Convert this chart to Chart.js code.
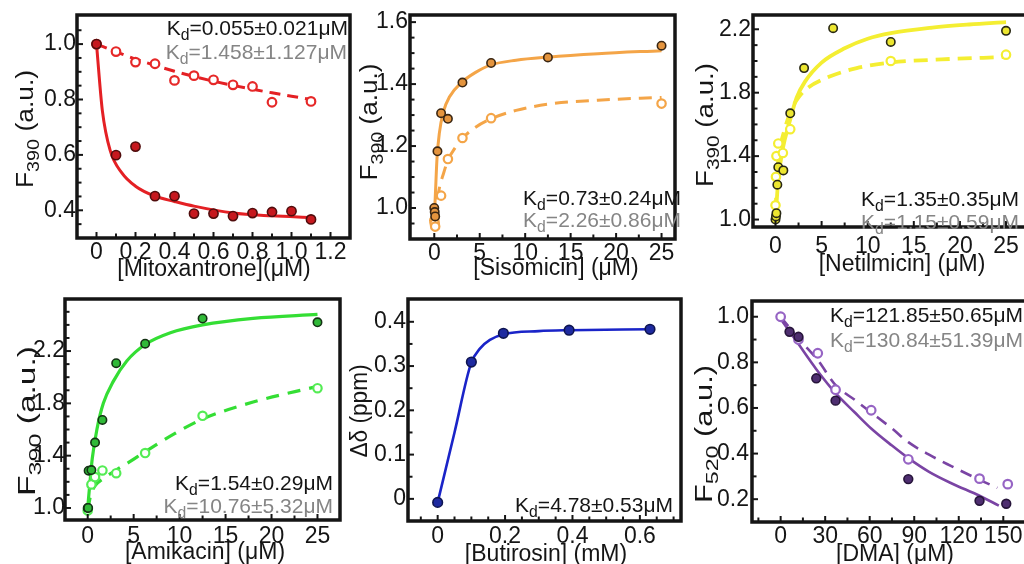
<!DOCTYPE html>
<html>
<head>
<meta charset="utf-8">
<script src="https://cdn.jsdelivr.net/npm/chart.js@4.4.1/dist/chart.umd.min.js"></script>
<style>
  html, body { margin: 0; padding: 0; background: #fff; overflow: hidden; width: 1024px; height: 564px; position: relative; }
  canvas { position: absolute; }
</style>
</head>
<body>
<script>
// ---------- Mitoxantrone titration ----------
const mitoX        = [0, 0.1, 0.2, 0.3, 0.4, 0.5, 0.6, 0.7, 0.8, 0.9, 1.0, 1.1];
const mitoClosed   = [1.0, 0.599, 0.63, 0.451, 0.451, 0.388, 0.388, 0.379, 0.39, 0.394, 0.397, 0.367];
const mitoOpenX    = [0, 0.1, 0.2, 0.3, 0.4, 0.5, 0.6, 0.7, 0.8, 0.9, 1.1];
const mitoOpen     = [1.0, 0.973, 0.935, 0.929, 0.869, 0.886, 0.871, 0.853, 0.847, 0.79, 0.793];
const mitoFitX     = [0, 0.03, 0.07, 0.13, 0.2, 0.3, 0.4, 0.5, 0.7, 0.9, 1.1];
const mitoFit      = [1.0, 0.76, 0.616, 0.535, 0.487, 0.451, 0.432, 0.415, 0.39, 0.38, 0.374];
const mitoFit2X    = [0, 0.1, 0.2, 0.3, 0.4, 0.5, 0.6, 0.7, 0.8, 0.9, 1.0, 1.1];
const mitoFit2     = [1.0, 0.972, 0.946, 0.923, 0.902, 0.883, 0.866, 0.851, 0.837, 0.824, 0.812, 0.80];
const mitoXTicks   = ['0', '0.2', '0.4', '0.6', '0.8', '1.0', '1.2'];
const mitoYTicks   = ['0.4', '0.6', '0.8', '1.0'];
const mitoKd       = ['K_{d}=0.055±0.021μM', 'K_{d}=1.458±1.127μM'];

// ---------- Sisomicin titration ----------
const sisoX        = [0, 0.05, 0.1, 0.35, 0.75, 1.5, 3.1, 6.25, 12.5, 25];
const sisoClosed   = [1.0, 0.987, 0.973, 1.183, 1.306, 1.288, 1.405, 1.468, 1.486, 1.524];
const sisoOpenX    = [0, 0.05, 0.1, 0.75, 1.5, 3.1, 6.25, 25];
const sisoOpen     = [0.96, 0.95, 0.94, 1.04, 1.158, 1.226, 1.29, 1.337];
const sisoFitX     = [0, 0.1, 0.3, 0.55, 1.0, 1.7, 3.0, 4.5, 6.25, 9, 12.5, 18, 25];
const sisoFit      = [0.975, 1.03, 1.16, 1.24, 1.31, 1.36, 1.405, 1.437, 1.462, 1.477, 1.487, 1.498, 1.508];
const sisoFit2X    = [0.1, 0.3, 0.6, 1.0, 1.5, 2.2, 3.1, 4.5, 6.25, 9, 12.5, 18, 25];
const sisoFit2     = [0.96, 1.02, 1.07, 1.11, 1.155, 1.19, 1.225, 1.26, 1.288, 1.315, 1.335, 1.348, 1.357];
const sisoXTicks   = ['0', '5', '10', '15', '20', '25'];
const sisoYTicks   = ['1.0', '1.2', '1.4', '1.6'];
const sisoKd       = ['K_{d}=0.73±0.24μM', 'K_{d}=2.26±0.86μM'];

// ---------- Netilmicin titration ----------
const netX         = [0, 0.05, 0.1, 0.2, 0.3, 0.85, 1.6, 3.1, 6.25, 12.5, 25];
const netClosed    = [1.0, 1.02, 1.04, 1.22, 1.33, 1.31, 1.67, 1.955, 2.207, 2.12, 2.19];
const netOpenX     = [0, 0.05, 0.1, 0.3, 0.8, 1.6, 12.5, 25];
const netOpen      = [1.09, 1.27, 1.40, 1.48, 1.42, 1.57, 2.0, 2.04];
const netFitX      = [0, 0.3, 0.8, 1.5, 2.3, 3.2, 5, 7.5, 10, 12.5, 17, 21, 25];
const netFit       = [1.0, 1.25, 1.45, 1.61, 1.77, 1.87, 1.99, 2.08, 2.14, 2.175, 2.21, 2.23, 2.245];
const netFit2X     = [0, 0.2, 0.5, 1.0, 1.7, 2.5, 3.5, 5.8, 8.8, 12.5, 18, 25];
const netFit2      = [1.05, 1.3, 1.45, 1.57, 1.69, 1.77, 1.83, 1.90, 1.955, 1.99, 2.01, 2.025];
const netXTicks    = ['0', '5', '10', '15', '20', '25'];
const netYTicks    = ['1.0', '1.4', '1.8', '2.2'];
const netKd        = ['K_{d}=1.35±0.35μM', 'K_{d}=1.15±0.59μM'];

// ---------- Amikacin titration ----------
const amiX         = [0, 0.05, 0.1, 0.4, 0.8, 1.6, 3.1, 6.25, 12.5, 25];
const amiClosed    = [1.0, 1.0, 1.285, 1.29, 1.50, 1.673, 2.107, 2.256, 2.449, 2.42];
const amiOpenX     = [0, 0.4, 0.8, 1.6, 3.1, 6.25, 12.5, 25];
const amiOpen      = [0.98, 1.18, 1.236, 1.287, 1.266, 1.42, 1.705, 1.916];
const amiFitX      = [0, 0.25, 0.5, 1.0, 1.7, 2.8, 4.25, 6.25, 9, 12.5, 18, 25];
const amiFit       = [1.0, 1.2, 1.38, 1.6, 1.8, 1.97, 2.124, 2.25, 2.34, 2.40, 2.45, 2.48];
const amiFit2X     = [0, 0.3, 0.8, 1.6, 3.1, 4.5, 6.25, 9.5, 12.5, 18, 25];
const amiFit2      = [0.98, 1.09, 1.17, 1.22, 1.29, 1.35, 1.43, 1.57, 1.68, 1.81, 1.93];
const amiXTicks    = ['0', '5', '10', '15', '20', '25'];
const amiYTicks    = ['1.0', '1.4', '1.8', '2.2'];
const amiKd        = ['K_{d}=1.54±0.29μM', 'K_{d}=10.76±5.32μM'];

// ---------- Butirosin NMR shift ----------
const butX         = [0, 0.1, 0.195, 0.39, 0.63];
const butShift     = [-0.008, 0.309, 0.374, 0.381, 0.383];
const butFitX      = [0, 0.05, 0.099, 0.126, 0.155, 0.195, 0.3, 0.39, 0.63];
const butFit       = [-0.008, 0.15, 0.306, 0.34, 0.359, 0.372, 0.379, 0.381, 0.383];
const butXTicks    = ['0', '0.2', '0.4', '0.6'];
const butYTicks    = ['0', '0.1', '0.2', '0.3', '0.4'];
const butKd        = ['K_{d}=4.78±0.53μM'];

// ---------- DMA titration ----------
const dmaX         = [6, 12, 24, 37, 86, 134, 152];
const dmaClosed    = [0.934, 0.912, 0.73, 0.632, 0.288, 0.193, 0.18];
const dmaOpenX     = [0, 12, 25, 37, 61, 86, 134, 153];
const dmaOpen      = [1.0, 0.90, 0.84, 0.68, 0.59, 0.375, 0.29, 0.266];
const dmaFitX      = [0, 12, 24, 37, 50, 61, 75, 86, 100, 115, 134, 147];
const dmaFit       = [0.99, 0.88, 0.77, 0.665, 0.58, 0.51, 0.435, 0.38, 0.32, 0.27, 0.215, 0.172];
const dmaFit2X     = [0, 12, 25, 37, 50, 61, 75, 86, 100, 115, 134, 146];
const dmaFit2      = [1.0, 0.905, 0.81, 0.70, 0.635, 0.58, 0.51, 0.45, 0.395, 0.345, 0.285, 0.25];
const dmaXTicks    = ['0', '30', '60', '90', '120', '150'];
const dmaYTicks    = ['0.2', '0.4', '0.6', '0.8', '1.0'];
const dmaKd        = ['K_{d}=121.85±50.65μM', 'K_{d}=130.84±51.39μM'];

// ---------- drawing helpers ----------
const FONT = '"Liberation Sans", Arial, Helvetica, sans-serif';
const INK = '#151515';
const GREY = '#858585';
const LABEL_SIZE = 23;

const pts = (xs, ys) => xs.map((x, i) => ({ x, y: ys[i] }));

function richSegments(str) {
  const out = [];
  const re = /_\{([^}]*)\}/g;
  let last = 0, m;
  while ((m = re.exec(str))) {
    if (m.index > last) out.push({ t: str.slice(last, m.index), sub: false });
    out.push({ t: m[1], sub: true });
    last = re.lastIndex;
  }
  if (last < str.length) out.push({ t: str.slice(last), sub: false });
  return out;
}
function richWidth(ctx, segs, size) {
  let w = 0;
  for (const s of segs) {
    ctx.font = `${s.sub ? size * 0.75 : size}px ${FONT}`;
    w += ctx.measureText(s.t).width;
  }
  return w;
}
function richDraw(ctx, segs, x, y, size) {
  for (const s of segs) {
    ctx.font = `${s.sub ? size * 0.75 : size}px ${FONT}`;
    ctx.fillText(s.t, x, y + (s.sub ? size * 0.24 : 0));
    x += ctx.measureText(s.t).width;
  }
}

// frame, inward tick marks and annotation text for one panel
function decor(p) {
  return {
    id: 'decor',
    afterDatasetsDraw(chart) {
      const { ctx, chartArea: a } = chart;
      const sx = chart.scales.x, sy = chart.scales.y;
      const xMaj = p.xTicks.map(Number), yMaj = p.yTicks.map(Number);
      const isMaj = (list, v) => list.some(m => Math.abs(m - v) < 1e-6);
      ctx.save();
      ctx.strokeStyle = INK;
      ctx.lineWidth = 2;
      for (let k = Math.ceil(sx.min / p.xMinor - 1e-9); k * p.xMinor <= sx.max + 1e-9; k++) {
        const v = k * p.xMinor, px = sx.getPixelForValue(v);
        if (px < a.left + 3 || px > a.right - 3) continue;
        const len = isMaj(xMaj, v) ? 6 : 4.5;
        ctx.beginPath(); ctx.moveTo(px, a.bottom); ctx.lineTo(px, a.bottom - len); ctx.stroke();
      }
      for (let k = Math.ceil(sy.min / p.yMinor - 1e-9); k * p.yMinor <= sy.max + 1e-9; k++) {
        const v = k * p.yMinor, py = sy.getPixelForValue(v);
        if (py < a.top + 3 || py > a.bottom - 3) continue;
        const len = isMaj(yMaj, v) ? 6 : 4.5;
        ctx.beginPath(); ctx.moveTo(a.left, py); ctx.lineTo(a.left + len, py); ctx.stroke();
      }
      ctx.lineWidth = 3.5;
      ctx.strokeRect(a.left, a.top, a.right - a.left, a.bottom - a.top);
      ctx.restore();
    },
    afterDraw(chart) {
      const ctx = chart.ctx;
      const ox = p.box.l - 80, oy = p.box.t - 20;
      ctx.save();
      ctx.textBaseline = 'alphabetic';
      ctx.textAlign = 'left';
      // binding constants
      p.kd.forEach(k => {
        const segs = richSegments(k.text);
        const w = richWidth(ctx, segs, 21);
        ctx.fillStyle = k.color;
        richDraw(ctx, segs, k.right - ox - w, k.base - oy, 21);
      });
      // x-axis title
      ctx.fillStyle = INK;
      ctx.font = `${LABEL_SIZE}px ${FONT}`;
      ctx.textAlign = 'center';
      ctx.textBaseline = 'middle';
      ctx.fillText(p.xTitle.text, p.xTitle.cx - ox, p.xTitle.cy - oy);
      // y-axis title, rotated
      ctx.textAlign = 'left';
      ctx.textBaseline = 'alphabetic';
      const fs = 23;
      const segs = richSegments(p.yTitle.text);
      const w = richWidth(ctx, segs, fs);
      const s = p.yTitle.len / w;
      ctx.translate(p.yTitle.cx - ox + fs * 0.716 / 2, p.yTitle.cy - oy);
      ctx.rotate(-Math.PI / 2);
      ctx.scale(s, 1);
      richDraw(ctx, segs, -w / 2, 0, fs);
      ctx.restore();
    }
  };
}

function axis(min, max, labels, padding, fitKey, fitVal) {
  const vals = labels.map(Number);
  return {
    type: 'linear', min, max, bounds: 'data',
    grid: { display: false, drawTicks: false },
    border: { display: false },
    afterFit: s => { s[fitKey] = fitVal; },
    afterBuildTicks: s => { s.ticks = vals.map(v => ({ value: v })); },
    ticks: {
      autoSkip: false, maxRotation: 0, minRotation: 0, padding,
      color: INK,
      font: { family: FONT, size: LABEL_SIZE, lineHeight: 1.2 },
      callback: (v, i) => labels[i]
    }
  };
}

function closedSet(xs, ys, fill, edge, r) {
  return { data: pts(xs, ys), showLine: false, pointRadius: r, pointHoverRadius: r,
           pointBackgroundColor: fill, pointBorderColor: edge, pointBorderWidth: 1.6, order: 0 };
}
function openSet(xs, ys, edge, r) {
  return { data: pts(xs, ys), showLine: false, pointRadius: r, pointHoverRadius: r,
           pointBackgroundColor: '#ffffff', pointBorderColor: edge, pointBorderWidth: 2.2, order: 1 };
}
function curveSet(xs, ys, color, width, dash) {
  return { data: pts(xs, ys), showLine: true, pointRadius: 0, borderColor: color, borderWidth: width,
           borderDash: dash || [], borderCapStyle: 'butt', cubicInterpolationMode: 'monotone',
           fill: false, order: 2 };
}

function panel(p) {
  const W = p.box.r - p.box.l + 100, H = p.box.b - p.box.t + 80;
  const cv = document.createElement('canvas');
  cv.width = W; cv.height = H;
  cv.style.left = (p.box.l - 80) + 'px';
  cv.style.top = (p.box.t - 20) + 'px';
  cv.style.width = W + 'px'; cv.style.height = H + 'px';
  document.body.appendChild(cv);
  new Chart(cv, {
    type: 'scatter',
    data: { datasets: p.datasets },
    options: {
      responsive: false, animation: false, devicePixelRatio: 1,
      layout: { padding: { left: 0, top: 20, right: 20, bottom: 0 } },
      plugins: { legend: { display: false }, tooltip: { enabled: false } },
      scales: {
        x: axis(p.x[0], p.x[1], p.xTicks, p.xPad, 'height', 60),
        y: axis(p.y[0], p.y[1], p.yTicks, p.yPad, 'width', 80)
      }
    },
    plugins: [decor(p)]
  });
}

// ---------- the six panels ----------
const RED = 'rgb(228,32,36)', ORANGE = 'rgb(244,165,72)', YELLOW = 'rgb(244,238,50)',
      GREEN = 'rgb(52,222,52)', BLUE = 'rgb(26,36,200)', PURPLE = 'rgb(122,68,164)';

panel({
  box: { l: 77, t: 15, r: 350, b: 238 },
  x: [-0.1, 1.3], y: [0.3, 1.105], xTicks: mitoXTicks, yTicks: mitoYTicks,
  xMinor: 0.1, yMinor: 0.05, xPad: 0.5, yPad: 1,
  xTitle: { text: '[Mitoxantrone](μM)', cx: 214, cy: 270 },
  yTitle: { text: 'F_{390} (a.u.)', cx: 25, cy: 129, len: 118 },
  kd: [{ text: mitoKd[0], color: INK, right: 348, base: 35 },
       { text: mitoKd[1], color: GREY, right: 347, base: 59 }],
  datasets: [
    closedSet(mitoX, mitoClosed, 'rgb(198,24,30)', 'rgb(80,12,12)', 4.6),
    openSet(mitoOpenX, mitoOpen, 'rgb(230,40,40)', 4.3),
    curveSet(mitoFitX, mitoFit, RED, 3),
    curveSet(mitoFit2X, mitoFit2, RED, 3, [11, 7])
  ]
});

panel({
  box: { l: 410, t: 15, r: 675, b: 239 },
  x: [-2.67, 26.48], y: [0.9, 1.623], xTicks: sisoXTicks, yTicks: sisoYTicks,
  xMinor: 2.5, yMinor: 0.05, xPad: 1, yPad: 2,
  xTitle: { text: '[Sisomicin] (μM)', cx: 556, cy: 269 },
  yTitle: { text: 'F_{390} (a.u.)', cx: 369, cy: 122, len: 117 },
  kd: [{ text: sisoKd[0], color: INK, right: 681, base: 205 },
       { text: sisoKd[1], color: GREY, right: 681, base: 227 }],
  datasets: [
    closedSet(sisoX, sisoClosed, 'rgb(228,148,62)', 'rgb(58,38,18)', 4.2),
    openSet(sisoOpenX, sisoOpen, ORANGE, 4.2),
    curveSet(sisoFitX, sisoFit, ORANGE, 3),
    curveSet(sisoFit2X, sisoFit2, ORANGE, 3, [13, 8])
  ]
});

panel({
  box: { l: 753, t: 15, r: 1030, b: 227 },
  x: [-2.44, 27.6], y: [0.953, 2.29], xTicks: netXTicks, yTicks: netYTicks,
  xMinor: 2.5, yMinor: 0.1, xPad: 6, yPad: 2,
  xTitle: { text: '[Netilmicin] (μM)', cx: 902, cy: 265 },
  yTitle: { text: 'F_{390} (a.u.)', cx: 705, cy: 125, len: 124 },
  kd: [{ text: netKd[0], color: INK, right: 1019, base: 206 },
       { text: netKd[1], color: GREY, right: 1019, base: 229 }],
  datasets: [
    closedSet(netX, netClosed, 'rgb(236,230,48)', 'rgb(40,40,20)', 4.2),
    openSet(netOpenX, netOpen, YELLOW, 4.2),
    curveSet(netFitX, netFit, YELLOW, 3.8),
    curveSet(netFit2X, netFit2, YELLOW, 3.8, [14, 8])
  ]
});

panel({
  box: { l: 65, t: 299, r: 340, b: 520 },
  x: [-2.47, 27.45], y: [0.908, 2.598], xTicks: amiXTicks, yTicks: amiYTicks,
  xMinor: 2.5, yMinor: 0.1, xPad: 2.5, yPad: 0,
  xTitle: { text: '[Amikacin] (μM)', cx: 205, cy: 553 },
  yTitle: { text: 'F_{390} (a.u.)', cx: 27, cy: 421, len: 150 },
  kd: [{ text: amiKd[0], color: INK, right: 333, base: 490 },
       { text: amiKd[1], color: GREY, right: 333, base: 513 }],
  datasets: [
    closedSet(amiX, amiClosed, 'rgb(48,185,56)', 'rgb(20,50,20)', 4.2),
    openSet(amiOpenX, amiOpen, 'rgb(84,236,84)', 4.2),
    curveSet(amiFitX, amiFit, GREEN, 3.2),
    curveSet(amiFit2X, amiFit2, GREEN, 3.2, [13, 9])
  ]
});

panel({
  box: { l: 408, t: 299, r: 681, b: 521 },
  x: [-0.088, 0.722], y: [-0.05, 0.4515], xTicks: butXTicks, yTicks: butYTicks,
  xMinor: 0.05, yMinor: 0.05, xPad: 2, yPad: 2,
  xTitle: { text: '[Butirosin] (mM)', cx: 546, cy: 555 },
  yTitle: { text: 'Δδ (ppm)', cx: 359, cy: 411, len: 93 },
  kd: [{ text: butKd[0], color: INK, right: 673, base: 512 }],
  datasets: [
    closedSet(butX, butShift, 'rgb(30,42,160)', 'rgb(14,20,80)', 4.8),
    curveSet(butFitX, butFit, BLUE, 2.6)
  ]
});

panel({
  box: { l: 752, t: 301, r: 1030, b: 522 },
  x: [-19.3, 168], y: [0.1, 1.069], xTicks: dmaXTicks, yTicks: dmaYTicks,
  xMinor: 15, yMinor: 0.1, xPad: 1, yPad: 3,
  xTitle: { text: '[DMA] (μM)', cx: 895, cy: 555 },
  yTitle: { text: 'F_{520} (a.u.)', cx: 704, cy: 434, len: 138 },
  kd: [{ text: dmaKd[0], color: INK, right: 1023, base: 322 },
       { text: dmaKd[1], color: GREY, right: 1023, base: 347 }],
  datasets: [
    closedSet(dmaX, dmaClosed, 'rgb(78,46,112)', 'rgb(38,20,58)', 4.4),
    openSet(dmaOpenX, dmaOpen, 'rgb(150,100,196)', 4.3),
    curveSet(dmaFitX, dmaFit, PURPLE, 2.6),
    curveSet(dmaFit2X, dmaFit2, PURPLE, 2.6, [12, 8])
  ]
});
</script>
</body>
</html>
